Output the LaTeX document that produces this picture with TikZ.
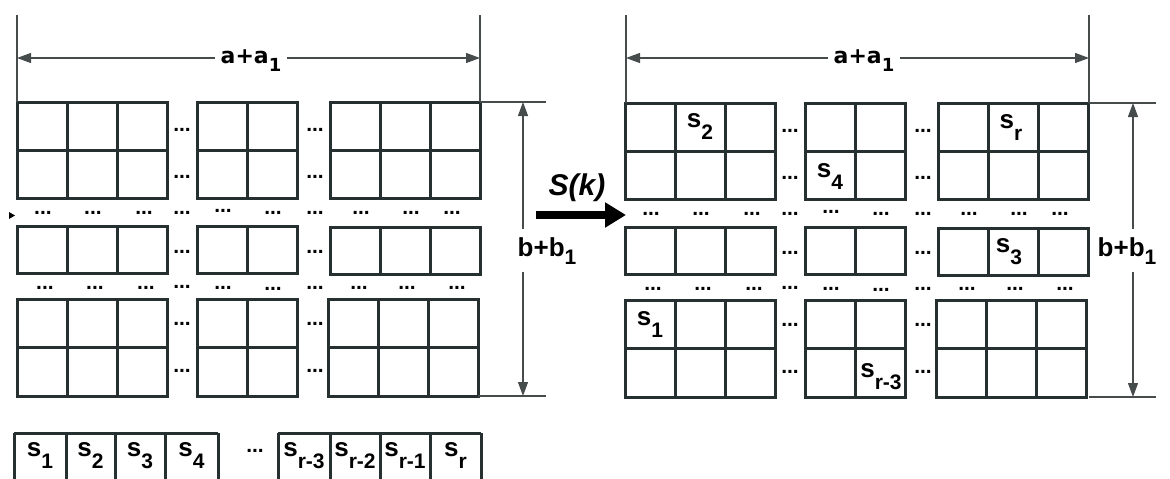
\documentclass[tikz,border=0pt]{standalone}
\usepackage{fontspec}
\setmainfont{Liberation Sans}
\newfontfamily\djv{DejaVu Sans}
\usetikzlibrary{arrows.meta}
\definecolor{gridc}{RGB}{38,48,48}
\definecolor{dimc}{RGB}{70,76,76}
\newcommand\sv[1]{{\fontsize{26}{26}\selectfont s\raisebox{-12pt}{\fontsize{21}{21}\selectfont #1}}}
\newcommand\blk[5]{%
  \foreach \ci in {1,...,#3}{\foreach \rj in {1,...,#4}{%
    \draw[gl] ({#1+(\ci-1)*50},{#2+(\rj-1)*#5}) rectangle ++(50,#5);}}}
\newcommand\gridset[1]{%
  \blk{17}{102}{3}{2}{48}
  \blk{197}{102}{2}{2}{48}
  \blk{330}{102}{3}{2}{48}
  \blk{17}{226}{3}{1}{47}
  \blk{197}{226}{2}{1}{47}
  \blk{330}{227}{3}{1}{47}
  \blk{17}{299}{3}{2}{48.5}
  \blk{197}{299}{2}{2}{48.5}
  \blk{328}{299}{3}{2}{48.5}
  \foreach \yy [count=\k] in {130,177,252,324,371}{%
    \node[dots] (#1ga\k) at (182,\yy) {...};
    \node[dots] (#1gb\k) at (315,\yy) {...};}
  \foreach \xx/\yy [count=\k] in {43/213,93/213,144/213,182/213,223/211,273/213,315/213,361/213,411/213,452/213}{%
    \node[dots] (#1ra\k) at (\xx,\yy) {...};}
  \foreach \xx/\yy [count=\k] in {45/288,95/288,146/288,182/287,223/288,273/289,315/288,359/288,407/288,457/288}{%
    \node[dots] (#1rb\k) at (\xx,\yy) {...};}
}
\tikzset{
  gl/.style={draw=gridc, line width=3pt},
  dl/.style={draw=dimc, line width=1.2pt},
  dimarrow/.style={dl, {Triangle[length=14pt,width=10pt]}-{Triangle[length=14pt,width=10pt]}},
  dots/.style={font=\bfseries\fontsize{21}{21}\selectfont, inner sep=0pt, text=black},
  lab/.style={font=\bfseries, inner sep=0pt, anchor=base, text=black},
  alab/.style={font=\djv\bfseries\fontsize{22}{22}\selectfont, fill=white, inner xsep=6pt, inner ysep=5pt, anchor=base, text=black},
  blab/.style={font=\bfseries\fontsize{26}{26}\selectfont, fill=white, inner xsep=2pt, inner ysep=8pt, anchor=base, text=black},
}
\begin{document}
\begin{tikzpicture}[x=1pt,y=-1pt]
\useasboundingbox (0,0) rectangle (1170,479);
\clip (0,0) rectangle (1170,479);

% ---------- left grid ----------
\gridset{L}
\fill[black] (9,212) -- (15,215.5) -- (9,219) -- cycle;

% left dimensions
\coordinate (LaL0) at (17,15);  \coordinate (LaL1) at (17,102);
\coordinate (LaR0) at (480,15); \coordinate (LaR1) at (480,102);
\draw[dl] (LaL0) -- (LaL1);
\draw[dl] (LaR0) -- (LaR1);
\coordinate (LaA) at (17,58); \coordinate (LaB) at (480,58);
\draw[dimarrow] (LaA) -- (LaB);
\node[alab] (La) at (251,63) {a+a\raisebox{-8pt}{\fontsize{18}{18}\selectfont 1}};

\coordinate (LbT0) at (480,102); \coordinate (LbT1) at (546,102);
\coordinate (LbB0) at (478,396); \coordinate (LbB1) at (546,396);
\draw[dl] (LbT0) -- (LbT1);
\draw[dl] (LbB0) -- (LbB1);
\coordinate (LbA) at (523,102); \coordinate (LbB) at (523,396);
\draw[dimarrow] (LbA) -- (LbB);
\node[blab] (Lb) at (547,256) {b+b\raisebox{-8pt}{\fontsize{21}{21}\selectfont 1}};

% bottom sequence row
\foreach \ex in {14,66,115,165,218,278,330,380,430,481}{%
  \draw[gl] (\ex,433) -- (\ex,495);}
\draw[gl] (14,433) -- (218,433);
\draw[gl] (278,433) -- (481,433);
\foreach \cx/\tx [count=\k] in {40/1,90.5/2,140/3,191.5/4,304/r-3,355/r-2,405/r-1,455.5/r}{%
  \node[lab] (q\k) at (\cx,456) {\sv{\tx}};}
\node[dots] (qd) at (255,451) {...};

% ---------- transform arrow ----------
\coordinate (sk0) at (536,215); \coordinate (sk1) at (626,215);
\draw[line width=8pt, -{Triangle[length=21pt,width=24pt]}] (sk0) -- (sk1);
\node[font=\bfseries\itshape\fontsize{30}{30}\selectfont, inner sep=0pt] (Sk) at (577,188) {S(k)};

% ---------- right grid ----------
\begin{scope}[xshift=608pt, yshift=-1pt]
\gridset{R}
\end{scope}

\coordinate (RaL0) at (626,15);  \coordinate (RaL1) at (626,103);
\coordinate (RaR0) at (1089,15); \coordinate (RaR1) at (1089,103);
\draw[dl] (RaL0) -- (RaL1);
\draw[dl] (RaR0) -- (RaR1);
\coordinate (RaA) at (626,58); \coordinate (RaB) at (1089,58);
\draw[dimarrow] (RaA) -- (RaB);
\node[alab] (Ra) at (864,63) {a+a\raisebox{-8pt}{\fontsize{18}{18}\selectfont 1}};

\coordinate (RbT0) at (1089,103); \coordinate (RbT1) at (1156,103);
\coordinate (RbB0) at (1089,397); \coordinate (RbB1) at (1156,397);
\draw[dl] (RbT0) -- (RbT1);
\draw[dl] (RbB0) -- (RbB1);
\coordinate (RbA) at (1133,103); \coordinate (RbB) at (1133,397);
\draw[dimarrow] (RbA) -- (RbB);
\node[blab] (Rb) at (1127,256) {b+b\raisebox{-8pt}{\fontsize{21}{21}\selectfont 1}};

% labels inside right grid
\node[lab] (p2) at (700,127) {\sv{2}};
\node[lab] (pr) at (1011,128) {\sv{r}};
\node[lab] (p4) at (830,177) {\sv{4}};
\node[lab] (p3) at (1009,252) {\sv{3}};
\node[lab] (p1) at (650,325) {\sv{1}};
\node[lab] (pr3) at (881,377) {\sv{r-3}};
\end{tikzpicture}
\end{document}
